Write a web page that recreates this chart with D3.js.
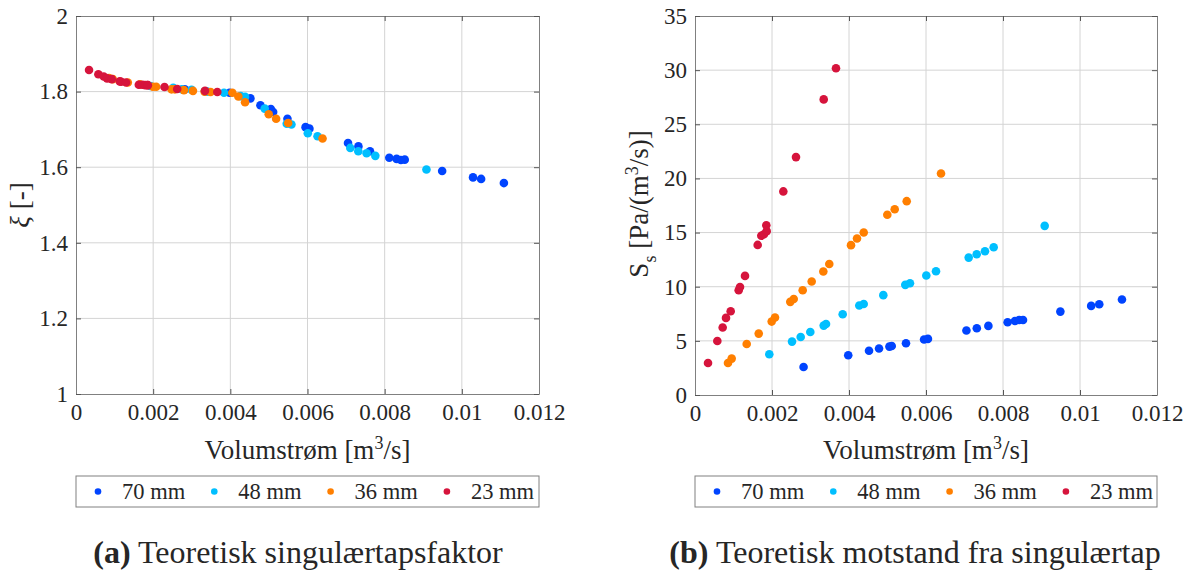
<!DOCTYPE html>
<meta charset="utf-8">
<script src="https://d3js.org/d3.v7.min.js"></script>
<style>
  body { margin: 0; background: #fff; }
  text { font-family: "Liberation Serif", "DejaVu Serif", serif; fill: #262626; }
</style>
<body>
  <div id="container"></div>
</body>
<script>
// series names (legend)
var seriesNames = ["70 mm", "48 mm", "36 mm", "23 mm"];

// volume flow [m3/s] for each series
var q70 = [0.00282, 0.00398, 0.00452, 0.00478, 0.00505, 0.00511, 0.00548, 0.00595, 0.00605,
           0.00705, 0.00732, 0.00762, 0.00812, 0.00831, 0.00842, 0.00852, 0.00949, 0.01029,
           0.01050, 0.01109];
var q48 = [0.00193, 0.00252, 0.002745, 0.002995, 0.003343, 0.003403, 0.003836, 0.004267,
           0.004382, 0.004891, 0.005462, 0.005584, 0.006008, 0.00626, 0.007109, 0.007317,
           0.007532, 0.007758, 0.009083];
var q36 = [0.000857, 0.000953, 0.001343, 0.001655, 0.001992, 0.002078, 0.002475, 0.002564,
           0.002797, 0.003031, 0.003333, 0.003488, 0.004052, 0.004208, 0.004382, 0.004995,
           0.005187, 0.005499, 0.00639];
var q23 = [0.000338, 0.00058, 0.000719, 0.000805, 0.000927, 0.001135, 0.001169, 0.001299,
           0.001628, 0.001722, 0.001792, 0.001862, 0.001852, 0.002294, 0.002623, 0.003343,
           0.003662];

// singular loss factor xi [-]
var xi70 = [1.806, 1.797, 1.782, 1.764, 1.754, 1.746, 1.728, 1.706, 1.702, 1.664, 1.655,
            1.642, 1.625, 1.622, 1.619, 1.620, 1.590, 1.573, 1.569, 1.558];
var xi48 = [1.815, 1.810, 1.806, 1.805, 1.801, 1.800, 1.797, 1.788, 1.786, 1.755, 1.715,
            1.713, 1.690, 1.682, 1.651, 1.642, 1.637, 1.630, 1.594];
var xi36 = [1.836, 1.833, 1.824, 1.819, 1.813, 1.813, 1.806, 1.806, 1.804, 1.802, 1.800,
            1.799, 1.797, 1.787, 1.772, 1.740, 1.728, 1.717, 1.676];
var xi23 = [1.857, 1.846, 1.840, 1.835, 1.833, 1.827, 1.826, 1.824, 1.818, 1.818, 1.817,
            1.817, 1.817, 1.812, 1.807, 1.802, 1.799];

// resistance S_s [Pa/(m3/s)]
var ss70 = [2.59, 3.67, 4.08, 4.29, 4.47, 4.53, 4.78, 5.12, 5.18, 5.95, 6.17, 6.38, 6.72,
            6.84, 6.93, 6.93, 7.70, 8.23, 8.38, 8.82];
var ss48 = [3.76, 4.93, 5.36, 5.82, 6.41, 6.56, 7.46, 8.26, 8.41, 9.22, 10.17, 10.32, 11.03,
            11.43, 12.69, 13.00, 13.28, 13.65, 15.62];
var ss36 = [2.96, 3.36, 4.71, 5.67, 6.78, 7.15, 8.60, 8.87, 9.68, 10.48, 11.40, 12.10, 13.84,
            14.45, 15.00, 16.64, 17.16, 17.90, 20.45];
var ss23 = [2.96, 4.99, 6.23, 7.12, 7.74, 9.68, 9.98, 11.00, 13.86, 14.70, 14.85, 15.13, 15.68,
            18.80, 21.97, 27.30, 30.17];

// tick values
var xTicks = [0, 0.002, 0.004, 0.006, 0.008, 0.01, 0.012];
var xiTicks = [1, 1.2, 1.4, 1.6, 1.8, 2];
var ssTicks = [0, 5, 10, 15, 20, 25, 30, 35];

var colors = ["#0044ff", "#00bfff", "#ff7f00", "#d6143c"];

var W = 1191, H = 573;
var svg = d3.select("#container").append("svg")
  .attr("width", W).attr("height", H);

function panel(opt) {
  var x = d3.scaleLinear().domain([0, 0.012]).range([opt.left, opt.left + opt.width]);
  var y = d3.scaleLinear().domain(opt.yDomain).range([opt.top + opt.height, opt.top]);
  var g = svg.append("g");

  // grid
  g.append("g").selectAll("line").data(xTicks.slice(1, -1)).enter().append("line")
    .attr("x1", function(d) { return x(d); }).attr("x2", function(d) { return x(d); })
    .attr("y1", opt.top).attr("y2", opt.top + opt.height)
    .attr("stroke", "#d4d4d4").attr("stroke-width", 1);
  g.append("g").selectAll("line").data(opt.yTicks.slice(1, -1)).enter().append("line")
    .attr("y1", function(d) { return y(d); }).attr("y2", function(d) { return y(d); })
    .attr("x1", opt.left).attr("x2", opt.left + opt.width)
    .attr("stroke", "#d4d4d4").attr("stroke-width", 1);

  // axes (inward ticks, matlab style)
  var xb = g.append("g").attr("transform", "translate(0," + (opt.top + opt.height) + ")")
    .call(d3.axisBottom(x).tickValues(xTicks).tickSizeInner(-5).tickSizeOuter(0)
      .tickPadding(10).tickFormat(function(d) { return d3.format("~g")(d); }));
  var xt = g.append("g").attr("transform", "translate(0," + opt.top + ")")
    .call(d3.axisTop(x).tickValues(xTicks).tickSizeInner(-5).tickSizeOuter(0).tickFormat(""));
  var yl = g.append("g").attr("transform", "translate(" + opt.left + ",0)")
    .call(d3.axisLeft(y).tickValues(opt.yTicks).tickSizeInner(-5).tickSizeOuter(0)
      .tickPadding(8).tickFormat(function(d) { return d3.format("~g")(d); }));
  var yr = g.append("g").attr("transform", "translate(" + (opt.left + opt.width) + ",0)")
    .call(d3.axisRight(y).tickValues(opt.yTicks).tickSizeInner(-5).tickSizeOuter(0).tickFormat(""));
  [xb, xt, yl, yr].forEach(function(a) {
    a.select(".domain").attr("stroke", "#808080");
    a.selectAll(".tick line").attr("stroke", "#555");
    a.selectAll("text").attr("font-size", 23).attr("fill", "#262626");
  });

  // points
  opt.series.forEach(function(s, i) {
    var pts = s.q.map(function(q, k) { return [q, s.v[k]]; });
    g.append("g").selectAll("circle").data(pts).enter().append("circle")
      .attr("cx", function(d) { return x(d[0]); })
      .attr("cy", function(d) { return y(d[1]); })
      .attr("r", 4.3)
      .attr("fill", colors[i]);
  });

  // x label
  var xl = g.append("text")
    .attr("x", opt.left + opt.width / 2).attr("y", 459)
    .attr("text-anchor", "middle").attr("font-size", 27);
  xl.append("tspan").text("Volumstrøm [m");
  xl.append("tspan").attr("dy", -10).attr("font-size", 18).text("3");
  xl.append("tspan").attr("dy", 10).text("/s]");

  // legend
  var ly = 476, lh = 31;
  g.append("rect").attr("x", opt.left).attr("y", ly)
    .attr("width", opt.width).attr("height", lh)
    .attr("fill", "#fff").attr("stroke", "#808080");
  seriesNames.forEach(function(n, i) {
    var x0 = opt.left + 22 + i * 116.3;
    g.append("circle").attr("cx", x0).attr("cy", ly + lh / 2).attr("r", 3.3).attr("fill", colors[i]);
    g.append("text").attr("x", x0 + 24).attr("y", ly + lh / 2 + 7)
      .attr("font-size", 22.5).text(n);
  });

  // caption
  var cap = g.append("text").attr("x", opt.capX).attr("y", 563)
    .attr("text-anchor", "middle").attr("font-size", 32);
  cap.append("tspan").attr("font-weight", "bold").text(opt.capTag);
  cap.append("tspan").text(" " + opt.capText);
  return g;
}

var ga = panel({
  left: 76, top: 16, width: 463, height: 378,
  yDomain: [1, 2], yTicks: xiTicks,
  series: [{q: q70, v: xi70}, {q: q48, v: xi48}, {q: q36, v: xi36}, {q: q23, v: xi23}],
  capX: 298, capTag: "(a)", capText: "Teoretisk singulærtapsfaktor"
});
var yla = ga.append("text").attr("transform", "translate(29,205) rotate(-90)")
  .attr("text-anchor", "middle").attr("font-size", 27);
yla.append("tspan").attr("font-style", "italic").text("ξ");
yla.append("tspan").text(" [-]");

var gb = panel({
  left: 695, top: 16, width: 462, height: 379,
  yDomain: [0, 35], yTicks: ssTicks,
  series: [{q: q70, v: ss70}, {q: q48, v: ss48}, {q: q36, v: ss36}, {q: q23, v: ss23}],
  capX: 915, capTag: "(b)", capText: "Teoretisk motstand fra singulærtap"
});
var ylb = gb.append("text").attr("transform", "translate(648,204) rotate(-90)")
  .attr("text-anchor", "middle").attr("font-size", 27);
ylb.append("tspan").text("S");
ylb.append("tspan").attr("dy", 8).attr("font-size", 18).text("s");
ylb.append("tspan").attr("dy", -8).text("  [Pa/(m");
ylb.append("tspan").attr("dy", -10).attr("font-size", 18).text("3");
ylb.append("tspan").attr("dy", 10).text("/s)]");
</script>
